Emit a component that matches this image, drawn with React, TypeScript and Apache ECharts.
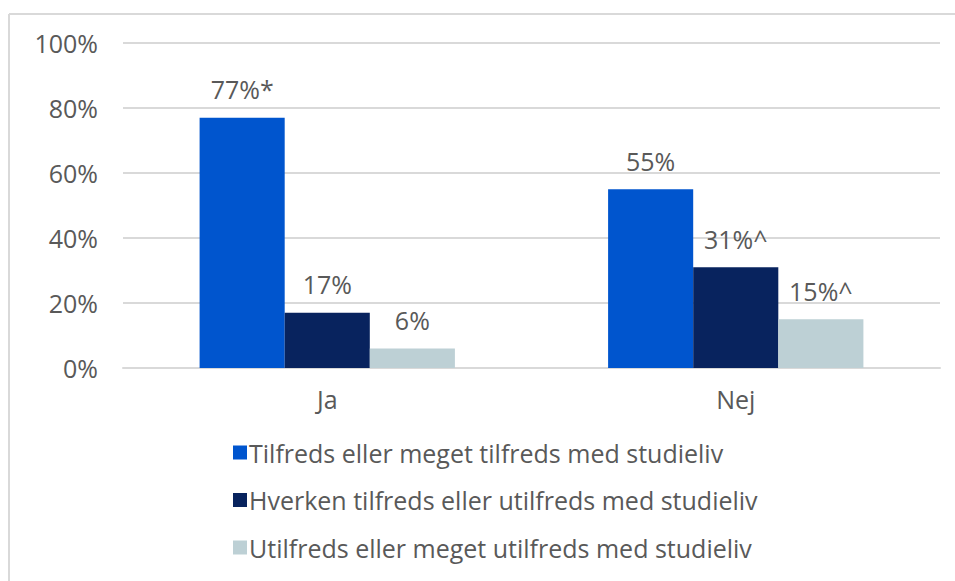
import React, { useEffect, useRef } from "react";
import * as echarts from "echarts";

const categories = ["Ja", "Nej"];
const seriesNames = [
  "Tilfreds eller meget tilfreds med studieliv",
  "Hverken tilfreds eller utilfreds med studieliv",
  "Utilfreds eller meget utilfreds med studieliv",
];
const satisfied = [77, 55];
const neutral = [17, 31];
const unsatisfied = [6, 15];
const satisfiedLabels = ["77%*", "55%"];
const neutralLabels = ["17%", "31%^"];
const unsatisfiedLabels = ["6%", "15%^"];
const colors = ["#0055CE", "#08235E", "#BDD0D5"];
const yTicks = [0, 20, 40, 60, 80, 100];

const FONT = "'Open Sans', 'Noto Sans', sans-serif";
const TEXT = "#595959";
const FS = 25;

export default function App() {
  const ref = useRef<HTMLDivElement>(null);
  useEffect(() => {
    if (!ref.current) return;
    const chart = echarts.init(ref.current, undefined, { renderer: "svg" });
    const mk = (i: number, data: number[], labels: string[]) => ({
      name: seriesNames[i],
      type: "bar",
      data,
      barGap: "0%",
      barCategoryGap: "37.5%",
      itemStyle: { color: colors[i] },
      label: {
        show: true,
        position: "top",
        distance: 16,
        color: TEXT,
        fontFamily: FONT,
        fontSize: FS,
        formatter: (p: any) => labels[p.dataIndex],
      },
    });
    chart.setOption({
      animation: false,
      backgroundColor: "#ffffff",
      textStyle: { fontFamily: FONT },
      grid: { left: 123, right: 15, top: 43, bottom: 213, containLabel: false },
      legend: {
        orient: "vertical",
        left: 228,
        top: 435,
        itemWidth: 14,
        itemHeight: 14,
        itemGap: 22.5,
        icon: "rect",
        textStyle: { color: TEXT, fontSize: FS, fontFamily: FONT, padding: [0, 0, 0, -3] },
        data: seriesNames,
      },
      xAxis: {
        type: "category",
        data: categories,
        axisLine: { lineStyle: { color: "#D9D9D9", width: 2 } },
        axisTick: { show: false },
        axisLabel: { color: TEXT, fontSize: FS, fontFamily: FONT, margin: 18 },
      },
      yAxis: {
        type: "value",
        min: yTicks[0],
        max: yTicks[yTicks.length - 1],
        interval: 20,
        axisLine: { show: false },
        axisTick: { show: false },
        splitLine: { lineStyle: { color: "#D9D9D9", width: 2 } },
        axisLabel: {
          color: TEXT,
          fontSize: FS,
          fontFamily: FONT,
          margin: 25,
          formatter: (v: number) => v + "%",
        },
      },
      graphic: [
        { type: "line", shape: { x1: 9, y1: 14, x2: 955, y2: 14 }, style: { stroke: "#D9D9D9", lineWidth: 2 } },
        { type: "line", shape: { x1: 9, y1: 14, x2: 9, y2: 581 }, style: { stroke: "#D9D9D9", lineWidth: 2 } },
      ],
      series: [
        mk(0, satisfied, satisfiedLabels),
        mk(1, neutral, neutralLabels),
        mk(2, unsatisfied, unsatisfiedLabels),
      ],
    });
    return () => chart.dispose();
  }, []);
  return (
    <div
      ref={ref}
      style={{ position: "fixed", left: 0, top: 0, width: 955, height: 581 }}
    />
  );
}
